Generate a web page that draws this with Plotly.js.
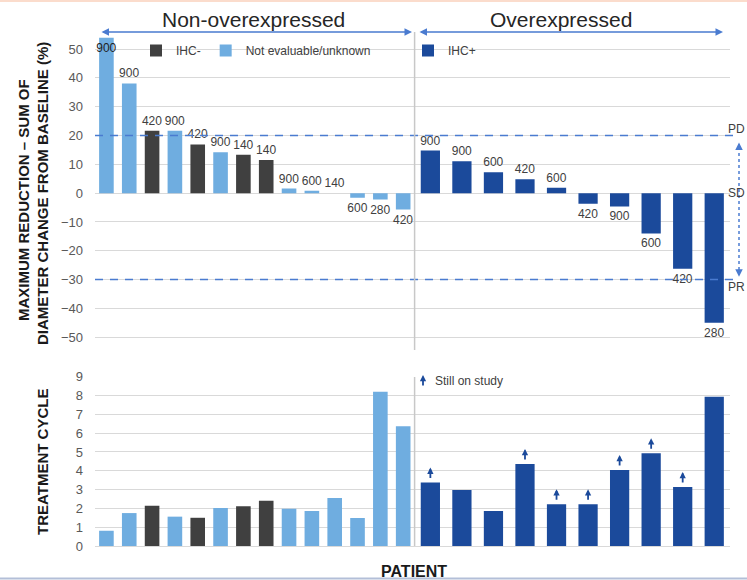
<!DOCTYPE html>
<html><head><meta charset="utf-8">
<script src="https://cdn.plot.ly/plotly-3.0.1.min.js"></script>
<style>html,body{margin:0;padding:0;background:#fff}</style>
</head><body><div id="chart" style="width:747px;height:580px"></div>
<script>
// ---- data ----
const nonPatients = ['N1','N2','N3','N4','N5','N6','N7','N8','N9','N10','N11','N12','N13','N14'];
const nonClass    = ['U','U','N','U','N','U','N','N','U','U','U','U','U','U']; // N = IHC-, U = not evaluable/unknown
const nonChange   = [54, 38.1, 21.7, 21.7, 16.9, 14.2, 13.3, 11.5, 1.6, 0.8, 0, -1.6, -2.2, -5.7];
const nonDose     = ['900','900','420','900','420','900','140','140','900','600','140','600','280','420'];
const nonCycles   = [0.81, 1.75, 2.14, 1.56, 1.5, 2.02, 2.11, 2.41, 1.98, 1.86, 2.55, 1.49, 8.2, 6.37];

const overPatients = ['O1','O2','O3','O4','O5','O6','O7','O8','O9','O10'];
const overChange   = [14.8, 11.1, 7.3, 4.8, 1.9, -3.7, -4.6, -14.0, -26.2, -45.0];
const overDose     = ['900','900','600','420','600','420','900','600','420','280'];
const overCycles   = [3.37, 2.98, 1.86, 4.36, 2.22, 2.22, 4.04, 4.93, 3.14, 7.94];
const overOnStudy  = [true, false, false, true, true, true, true, true, true, false];

const topTicks    = [-50,-40,-30,-20,-10,0,10,20,30,40,50];
const bottomTicks = [0,1,2,3,4,5,6,7,8,9];
const pdLine = 20, prLine = -30;

// ---- styles ----
const LIGHT = '#6fade0', DARK = '#404040', NAVY = '#1b4a9b', LINEBLUE = '#4a7bd0';
const FONT = 'Liberation Sans, Arial, sans-serif';
const TXT = '#404040';
const W = 747, H = 580;
const px = v => v / W, py = v => 1 - v / H;

const mask = (arr, cls, c) => arr.map((v, i) => cls[i] === c ? v : null);
const TOPMAX = 54;

function topTrace(name, c, color, show) {
  return {
    type: 'bar', name: name, x: nonPatients,
    y: mask(nonChange, nonClass, c),
    text: mask(nonDose, nonClass, c),
    textposition: nonChange.map(v => v >= TOPMAX ? 'inside' : 'outside'),
    insidetextanchor: 'end', constraintext: 'none', cliponaxis: false, textangle: 0,
    textfont: {family: FONT, size: 12, color: TXT},
    insidetextfont: {family: FONT, size: 12, color: '#222'},
    outsidetextfont: {family: FONT, size: 12, color: TXT},
    marker: {color: color}, width: 0.64,
    xaxis: 'x', yaxis: 'y', legend: 'legend', showlegend: show, hoverinfo: 'x+y'
  };
}
function botTrace(c, color) {
  return {
    type: 'bar', x: nonPatients, y: mask(nonCycles, nonClass, c),
    marker: {color: color}, width: 0.64, xaxis: 'x3', yaxis: 'y3', showlegend: false
  };
}

const data = [
  topTrace('IHC-', 'N', DARK, true),
  topTrace('Not evaluable/unknown', 'U', LIGHT, true),
  {
    type: 'bar', name: 'IHC+', x: overPatients, y: overChange, text: overDose,
    textposition: 'outside', cliponaxis: false, constraintext: 'none', textangle: 0,
    textfont: {family: FONT, size: 12, color: TXT},
    marker: {color: NAVY}, width: 0.61, xaxis: 'x2', yaxis: 'y2', legend: 'legend2'
  },
  botTrace('N', DARK),
  botTrace('U', LIGHT),
  {
    type: 'bar', x: overPatients, y: overCycles, marker: {color: NAVY}, width: 0.61,
    xaxis: 'x4', yaxis: 'y4', showlegend: false
  }
];

const xL = [95 / W, 414.6 / W], xR = [414.6 / W, 730 / W];
const yT = [py(344.4), py(37.6)], yB = [py(546), py(376.7)];
const tickfont = {family: FONT, size: 13, color: '#595959'};
const gridc = '#d9d9d9';

const baseX = {type: 'category', showticklabels: false, showgrid: false, zeroline: false, ticks: '', fixedrange: true};
const baseY = {showgrid: true, gridcolor: gridc, gridwidth: 1, zeroline: true, zerolinecolor: gridc, zerolinewidth: 1,
  ticks: '', ticklen: 0, tickfont: tickfont, ticklabelstandoff: 11, fixedrange: true};

const annotations = [];
const C = {xanchor: 'center', yanchor: 'middle'};
// group headers
annotations.push(Object.assign({xref: 'paper', yref: 'paper', x: px(253), y: py(19), text: 'Non-overexpressed', showarrow: false,
  font: {family: FONT, size: 21, color: '#262626'}}, C));
annotations.push(Object.assign({xref: 'paper', yref: 'paper', x: px(561), y: py(19), text: 'Overexpressed', showarrow: false,
  font: {family: FONT, size: 21, color: '#262626'}}, C));
// double-headed group arrows
const arrowY = py(32);
[[100, 412], [418, 723]].forEach(([a, b]) => {
  annotations.push({xref: 'paper', yref: 'paper', axref: 'pixel', ayref: 'pixel', x: px(b), y: arrowY,
    ax: -(b - a), ay: 0, text: '', showarrow: true, arrowside: 'end+start', arrowhead: 2, arrowsize: 1,
    arrowwidth: 1.5, arrowcolor: LINEBLUE, standoff: 0, startstandoff: 0});
});
// PD / SD / PR
[['PD', 22.4], ['SD', 0], ['PR', -32.5]].forEach(([t, v]) => {
  annotations.push({xref: 'paper', yref: 'y', x: px(726), y: v, xanchor: 'left', yanchor: 'middle', text: t, showarrow: false,
    font: {family: FONT, size: 12, color: TXT}});
});
// dotted arrow heads
annotations.push({xref: 'paper', yref: 'y', x: px(739), y: 17.6, ax: 0, ay: 7, text: '', showarrow: true,
  arrowhead: 2, arrowsize: 1, arrowwidth: 1.5, arrowcolor: LINEBLUE, standoff: 0});
annotations.push({xref: 'paper', yref: 'y', x: px(739), y: -29, ax: 0, ay: -7, text: '', showarrow: true,
  arrowhead: 2, arrowsize: 1, arrowwidth: 1.5, arrowcolor: LINEBLUE, standoff: 0});
// still on study arrows
const studyArrow = {ax: 0, ay: 12, text: '', showarrow: true, arrowhead: 2, arrowsize: 0.7, arrowwidth: 1.8,
  arrowcolor: NAVY, standoff: 0};
overPatients.forEach((p, i) => {
  if (!overOnStudy[i]) return;
  annotations.push(Object.assign({xref: 'x4', yref: 'y4', x: p, y: overCycles[i], yshift: 15}, studyArrow));
});
annotations.push(Object.assign({xref: 'paper', yref: 'paper', x: px(423), y: py(375)}, studyArrow));
annotations.push({xref: 'paper', yref: 'paper', x: px(433), y: py(381), xanchor: 'left', yanchor: 'middle', text: 'Still on study',
  showarrow: false, font: {family: FONT, size: 12, color: TXT}});
// axis titles
const TF = {family: FONT, size: 15, color: '#1a1a1a', weight: 'bold'};
annotations.push(Object.assign({xref: 'paper', yref: 'paper', x: px(23), y: py(200), textangle: -90, showarrow: false,
  text: 'MAXIMUM REDUCTION \u2013 SUM OF', font: TF}, C));
annotations.push(Object.assign({xref: 'paper', yref: 'paper', x: px(42), y: py(194), textangle: -90, showarrow: false,
  text: 'DIAMETER CHANGE FROM BASELINE (%)', font: TF}, C));
annotations.push(Object.assign({xref: 'paper', yref: 'paper', x: px(42), y: py(462), textangle: -90, showarrow: false,
  text: 'TREATMENT CYCLE', font: TF}, C));
annotations.push(Object.assign({xref: 'paper', yref: 'paper', x: px(414), y: py(571), showarrow: false,
  text: 'PATIENT', font: {family: FONT, size: 16, color: '#1a1a1a', weight: 'bold'}}, C));

const shapes = [
  // threshold lines
  {type: 'line', xref: 'paper', yref: 'y', x0: px(95), x1: px(733), y0: pdLine, y1: pdLine,
    line: {color: LINEBLUE, width: 1.5, dash: '8px,7px'}},
  {type: 'line', xref: 'paper', yref: 'y', x0: px(95), x1: px(733), y0: prLine, y1: prLine,
    line: {color: LINEBLUE, width: 1.5, dash: '8px,7px'}},
  // dotted vertical arrow
  {type: 'line', xref: 'paper', yref: 'y', x0: px(739), x1: px(739), y0: 16, y1: -27,
    line: {color: LINEBLUE, width: 1.5, dash: '3px,3px'}},
  // group dividers
  {type: 'line', xref: 'x2 domain', yref: 'paper', x0: 0, x1: 0, y0: py(350), y1: py(32),
    line: {color: '#c8c8c8', width: 1.5}},
  {type: 'line', xref: 'x4 domain', yref: 'paper', x0: 0, x1: 0, y0: py(546), y1: py(377),
    line: {color: '#c8c8c8', width: 1.5}},
  // frame accents
  {type: 'line', xref: 'paper', yref: 'paper', x0: 0, x1: 1, y0: py(1), y1: py(1), line: {color: '#fbdccc', width: 2}},
  {type: 'line', xref: 'paper', yref: 'paper', x0: 0, x1: 1, y0: py(578.5), y1: py(578.5), line: {color: '#b3bfd8', width: 2}}
];

const layout = {
  width: W, height: H, margin: {l: 0, r: 0, t: 0, b: 0},
  paper_bgcolor: '#fff', plot_bgcolor: 'rgba(0,0,0,0)',
  font: {family: FONT, color: TXT},
  barmode: 'relative', bargap: 0.35,
  xaxis:  Object.assign({}, baseX, {domain: xL, anchor: 'y', range: [-0.5, 13.5]}),
  xaxis2: Object.assign({}, baseX, {domain: xR, anchor: 'y2', range: [-0.5, 9.5]}),
  xaxis3: Object.assign({}, baseX, {domain: xL, anchor: 'y3', range: [-0.5, 13.5]}),
  xaxis4: Object.assign({}, baseX, {domain: xR, anchor: 'y4', range: [-0.5, 9.5]}),
  yaxis:  Object.assign({}, baseY, {domain: yT, anchor: 'x', range: [-52.5, TOPMAX], tickvals: topTicks}),
  yaxis2: Object.assign({}, baseY, {domain: yT, anchor: 'x2', range: [-52.5, TOPMAX], tickvals: topTicks, showticklabels: false}),
  yaxis3: Object.assign({}, baseY, {domain: yB, anchor: 'x3', range: [0, 9], tickvals: bottomTicks}),
  yaxis4: Object.assign({}, baseY, {domain: yB, anchor: 'x4', range: [0, 9], tickvals: bottomTicks, showticklabels: false}),
  legend: {orientation: 'h', x: px(136), y: py(36), xanchor: 'left', yanchor: 'top', bgcolor: 'rgba(0,0,0,0)',
    font: {family: FONT, size: 12, color: TXT}, traceorder: 'normal'},
  legend2: {orientation: 'h', x: px(408), y: py(36), xanchor: 'left', yanchor: 'top', bgcolor: 'rgba(0,0,0,0)',
    font: {family: FONT, size: 12, color: TXT}},
  annotations: annotations, shapes: shapes,
  showlegend: true
};

Plotly.newPlot('chart', data, layout, {displayModeBar: false, staticPlot: true});
</script></body></html>
